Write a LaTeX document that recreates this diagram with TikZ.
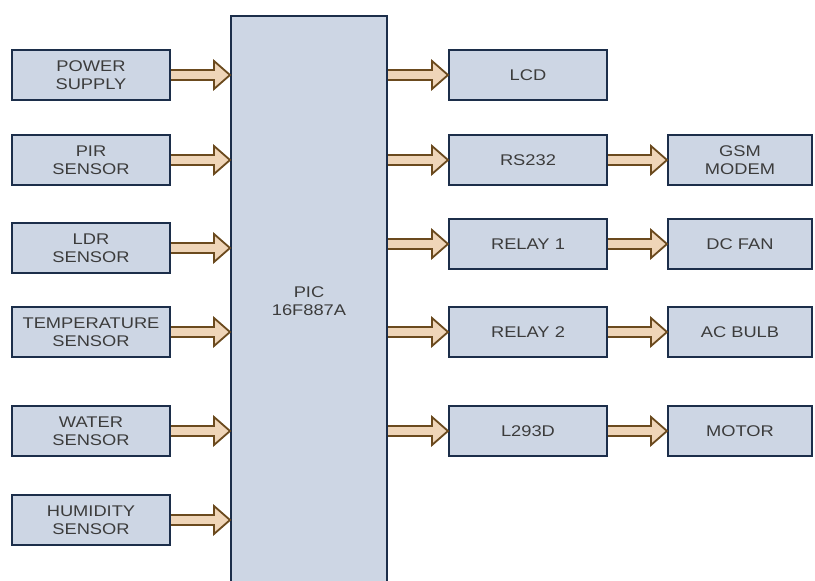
\documentclass[tikz,border=0pt]{standalone}
\usepackage{fontspec}
\setmainfont{Liberation Sans}[FakeStretch=1.18]
\usepackage{tikz}
\usetikzlibrary{calc}

\definecolor{boxfill}{HTML}{CDD6E4}
\definecolor{boxline}{HTML}{1C2E4A}
\definecolor{arrowfill}{HTML}{EFD5B8}
\definecolor{arrowline}{HTML}{6B4A1E}
\definecolor{textgray}{HTML}{3C3C3C}

\tikzset{
  fat/.style={draw=arrowline, fill=arrowfill, line width=1.8pt, line join=miter},
  blk/.style={rectangle, draw=boxline, fill=boxfill, line width=2pt, inner sep=0pt,
    align=center, text=textgray, font=\fontsize{15.5}{18}\selectfont,
    minimum width=158pt, minimum height=50pt},
  wide/.style={blk, minimum width=144pt}
}

% thick hollow arrow from the east side of #1 to the west side of #2, at the height of #3
\newcommand{\fatarrow}[3]{%
  \draw[fat] let \p1=(#1.east |- #3), \p2=(#2.west |- #3) in
    (\x1,{\y1+5pt}) -- ({\x2-16pt},{\y1+5pt}) -- ({\x2-16pt},{\y1+14pt}) -- (\x2,\y1)
    -- ({\x2-16pt},{\y1-14pt}) -- ({\x2-16pt},{\y1-5pt}) -- (\x1,{\y1-5pt});}

\begin{document}
\begin{tikzpicture}[x=1pt, y=-1pt]
      \useasboundingbox[fill=white] (0,0) rectangle (815,581);
      \clip (0,0) rectangle (815,581);
      % controller
      \node[blk, minimum width=156pt, minimum height=570pt] (pic) at (309,301) {PIC\\16F887A};
      % inputs
      \node[blk] (power) at (91,75) {POWER\\SUPPLY};
      \node[blk] (pir) at (91,160) {PIR\\SENSOR};
      \node[blk] (ldr) at (91,248) {LDR\\SENSOR};
      \node[blk] (temp) at (91,332) {TEMPERATURE\\SENSOR};
      \node[blk] (water) at (91,431) {WATER\\SENSOR};
      \node[blk] (humid) at (91,520) {HUMIDITY\\SENSOR};
      % drivers
      \node[blk] (lcd) at (528,75) {LCD};
      \node[blk] (rs) at (528,160) {RS232};
      \node[blk] (relayA) at (528,244) {RELAY 1};
      \node[blk] (relayB) at (528,332) {RELAY 2};
      \node[blk] (driver) at (528,431) {L293D};
      % loads
      \node[wide] (gsm) at (740,160) {GSM\\MODEM};
      \node[wide] (fan) at (740,244) {DC FAN};
      \node[wide] (bulb) at (740,332) {AC BULB};
      \node[wide] (motor) at (740,431) {MOTOR};
      \fatarrow{power}{pic}{power}
      \fatarrow{pir}{pic}{pir}
      \fatarrow{ldr}{pic}{ldr}
      \fatarrow{temp}{pic}{temp}
      \fatarrow{water}{pic}{water}
      \fatarrow{humid}{pic}{humid}
      \fatarrow{pic}{lcd}{lcd}
      \fatarrow{pic}{rs}{rs}
      \fatarrow{pic}{relayA}{relayA}
      \fatarrow{pic}{relayB}{relayB}
      \fatarrow{pic}{driver}{driver}
      \fatarrow{rs}{gsm}{gsm}
      \fatarrow{relayA}{fan}{fan}
      \fatarrow{relayB}{bulb}{bulb}
      \fatarrow{driver}{motor}{motor}
    \end{tikzpicture}
\end{document}
